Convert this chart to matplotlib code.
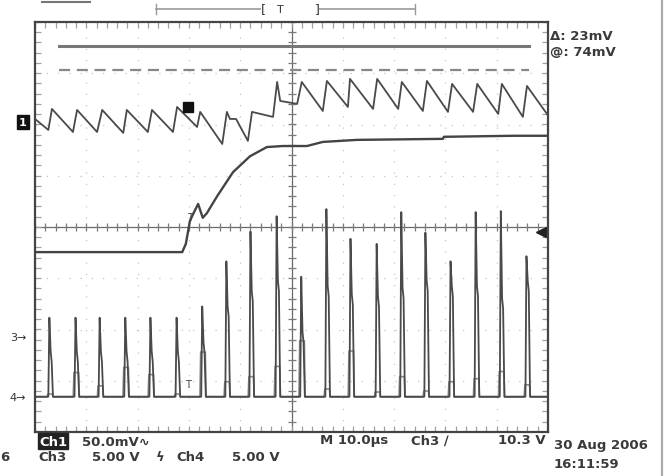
import numpy as np
import matplotlib.pyplot as plt
from matplotlib.lines import Line2D

# Escalas del osciloscopio
t_div = 10.0       # us/div
ch1_escala = 50.0  # mV/div
ch3_escala = 5.0   # V/div
ch4_escala = 5.0   # V/div

# Posicion de las tierras (div desde el centro de pantalla)
ch1_pos = 2.05
ch3_pos = -2.15
ch4_pos = -3.32

# Canal 1: rizado (us, mV)
ch1_t = [-50.0, -47.4, -46.7, -42.6, -41.8, -37.9, -36.9, -32.8, -32.1, -28.0, -27.2,
         -23.1, -22.3, -18.4, -17.8, -13.5, -12.6, -12.0, -10.8, -8.5, -7.7, -3.6,
         -2.8, -2.2, 1.1, 2.0, 6.1, 6.9, 11.0, 11.4, 15.9, 16.7, 20.8, 21.5, 25.6,
         26.4, 30.5, 31.3, 35.4, 36.2, 40.3, 41.0, 45.1, 45.9, 49.8]
ch1_mv = [2.9, -7.8, 12.7, -9.8, 11.7, -9.8, 11.7, -10.7, 11.7, -9.8, 11.7,
          -9.8, 14.6, -4.9, 9.8, -21.5, 9.8, 2.9, 2.9, -18.5, 9.8, 4.9,
          39.0, 20.5, 17.6, 39.0, 10.7, 40.0, 14.6, 42.0, 12.7, 42.0, 12.7, 39.0, 10.7,
          40.0, 9.8, 37.1, 9.8, 37.1, 7.8, 37.1, 4.9, 35.1, 7.8]

# Traza lenta (us, div)
lenta_t = [-50.0, -21.3, -20.6, -19.8, -19.0, -18.2, -17.3, -16.5, -14.5, -11.4,
           -8.1, -4.8, -1.7, 3.0, 6.1, 12.8, 29.5, 29.7, 43.2, 49.8]
lenta_div = [-0.49, -0.49, -0.33, 0.12, 0.29, 0.45, 0.18, 0.27, 0.6, 1.07,
             1.38, 1.56, 1.58, 1.58, 1.66, 1.70, 1.72, 1.76, 1.78, 1.78]

# Pulsos de los canales 3 y 4
pulso_t = [-47.1, -42.0, -37.3, -32.3, -27.4, -22.3, -17.3, -12.6, -7.9, -2.8,
           2.0, 6.9, 11.6, 16.7, 21.5, 26.2, 31.1, 36.0, 40.9, 45.9]
ch3_pico = [1.9, 1.9, 1.9, 1.9, 1.9, 1.9, 3.0, 7.4, 10.3, 11.8,
            5.9, 12.5, 9.6, 9.1, 12.2, 10.2, 7.4, 12.2, 12.3, 7.9]
ch3_hombro = [-1.4, -1.4, -1.4, -1.4, -1.4, -1.4, -0.5, 3.0, 4.5, 5.5,
              0.5, 5.0, 4.2, 4.0, 4.8, 5.5, 5.0, 5.0, 3.8, 5.5]
ch3_bajo = -5.8
ch4_pico = [0.3, 2.4, 1.1, 2.9, 2.2, 0.3, 4.4, 1.5, 2.0, 3.0,
            5.5, 0.8, 4.5, 0.5, 2.0, 0.6, 1.5, 1.8, 2.5, 1.2]

cursor_a = 74.0     # mV
cursor_delta = 23.0  # mV
disparo = 10.3       # V
pos_disparo = -20.2  # us

fig = plt.figure(figsize=(6.7, 4.77), dpi=100)
W, H = 670.0, 477.0
def px(x, y):
    return x / W, 1 - y / H

ax = fig.add_axes([35 / W, 1 - 433 / H, 513 / W, 410 / H])
ax.set_xlim(-5 * t_div, 5 * t_div)
ax.set_ylim(-4, 4)
ax.set_xticks([])
ax.set_yticks([])
for s in ax.spines.values():
    s.set_color('#444444')
    s.set_linewidth(1.6)

# reticula
gris = '#c4c4c4'
for i in range(-4, 5):
    ax.axvline(i * t_div, color=gris, lw=0.9, ls=(0, (1, 8)), zorder=0)
for j in range(-3, 4):
    ax.axhline(j, color=gris, lw=0.9, ls=(0, (1, 8)), zorder=0)
ax.axvline(0, color='#6a6a6a', lw=0.9, zorder=1)
ax.axhline(0, color='#6a6a6a', lw=0.9, zorder=1)
xs = np.arange(-50, 50.1, t_div / 5)
ys = np.arange(-4, 4.01, 0.2)
ax.plot(xs, np.zeros_like(xs), ls='none', marker='|', ms=6, color='#7a7a7a', mew=0.9)
ax.plot(np.zeros_like(ys), ys, ls='none', marker='_', ms=6, color='#7a7a7a', mew=0.9)
ax.plot(xs, np.full_like(xs, 4), ls='none', marker='|', ms=8, color='#a0a0a0', mew=0.9)
ax.plot(xs, np.full_like(xs, -4), ls='none', marker='|', ms=8, color='#a0a0a0', mew=0.9)
ax.plot(np.full_like(ys, -50), ys, ls='none', marker='_', ms=8, color='#a0a0a0', mew=0.9)
ax.plot(np.full_like(ys, 50), ys, ls='none', marker='_', ms=8, color='#a0a0a0', mew=0.9)

# cursores
ya = ch1_pos + cursor_a / ch1_escala
yb = ch1_pos + (cursor_a - cursor_delta) / ch1_escala
ax.plot([-45.3, 46.3], [ya, ya], color='#777777', lw=2.2)
ax.plot([-45.3, 46.3], [yb, yb], color='#888888', lw=1.6, ls=(0, (5, 3)))

# canal 1
ch1_y = ch1_pos + np.array(ch1_mv) / ch1_escala
ax.plot(ch1_t, ch1_y, color='#4a4a4a', lw=1.3)

# traza lenta
ax.plot(lenta_t, lenta_div, color='#444444', lw=1.7)

# canales 3 y 4
t3 = [-50.0]
v3 = [ch3_bajo]
t4 = [-50.0]
v4 = [0.0]
for t, p, h, q in zip(pulso_t, ch3_pico, ch3_hombro, ch4_pico):
    t3 += [t - 0.3, t - 0.1, t + 0.15, t + 0.35, t + 0.6]
    v3 += [ch3_bajo, p, h, h - 1.0, ch3_bajo]
    t4 += [t - 0.55, t - 0.4, t + 0.5, t + 0.65]
    v4 += [0.0, q, q, 0.0]
t3.append(50.0)
v3.append(ch3_bajo)
t4.append(50.0)
v4.append(0.0)
ax.plot(t4, ch4_pos + np.array(v4) / ch4_escala, color='#8a8a8a', lw=1.2)
ax.plot(t3, ch3_pos + np.array(v3) / ch3_escala, color='#4a4a4a', lw=1.3)

# marcas
ax.plot([48.6], [ch3_pos + disparo / ch3_escala], marker='<', ms=7, color='#222222', clip_on=False)
ax.plot([pos_disparo], [ch1_pos + 15 / ch1_escala], marker='s', ms=7, color='#111111')
ax.text(pos_disparo, ch4_pos + 0.25, 'T', fontsize=7, ha='center', va='center', color='#444444')
ax.text(pos_disparo + 0.4, 0.2, 'T', fontsize=7, ha='center', va='center', color='#444444')

ax.annotate('1', xy=(-50, ch1_pos), xytext=(-12, 0), textcoords='offset pixels',
            fontsize=8, fontweight='bold', color='white', ha='center', va='center',
            bbox=dict(boxstyle='square,pad=0.15', fc='#111111', ec='#111111'),
            annotation_clip=False)
ax.annotate('3→', xy=(-50, ch3_pos), xytext=(-17, 0), textcoords='offset pixels',
            fontsize=8, color='#333333', ha='center', va='center', annotation_clip=False)
ax.annotate('4→', xy=(-50, ch4_pos), xytext=(-17, 0), textcoords='offset pixels',
            fontsize=8, color='#333333', ha='center', va='center', annotation_clip=False)

# barra superior
fig.add_artist(Line2D([156 / W, 415 / W], [1 - 10 / H] * 2, color='#999999', lw=1.2))
fig.add_artist(Line2D([156 / W, 156 / W], [1 - 5 / H, 1 - 15 / H], color='#999999', lw=1.0))
fig.add_artist(Line2D([415 / W, 415 / W], [1 - 5 / H, 1 - 15 / H], color='#999999', lw=1.0))
fig.add_artist(Line2D([263 / W, 317 / W], [1 - 10 / H] * 2, color='white', lw=3))
fig.text(*px(263, 10), '[', fontsize=9, color='#333333', ha='center', va='center')
fig.text(*px(280, 10), 'T', fontsize=8, color='#333333', ha='center', va='center')
fig.text(*px(317, 10), ']', fontsize=9, color='#333333', ha='center', va='center')
fig.add_artist(Line2D([42 / W, 90 / W], [1 - 3 / H] * 2, color='#777777', lw=1.5))
fig.add_artist(Line2D([662 / W, 662 / W], [0, 1], color='#aaaaaa', lw=1.6))

# textos
txt = dict(fontsize=9.5, fontweight='bold', color='#3a3a3a', va='center')
fig.text(*px(550, 37), 'Δ: %dmV' % cursor_delta, **txt)
fig.text(*px(550, 52), '@: %dmV' % cursor_a, **txt)
fig.text(*px(39, 442), 'Ch1', fontsize=9.5, fontweight='bold', color='white', va='center',
         bbox=dict(boxstyle='square,pad=0.1', fc='#222222', ec='#222222'))
fig.text(*px(82, 442), '50.0mV∿', **txt)
fig.text(*px(38, 458), 'Ch3', **txt)
fig.text(*px(92, 458), '5.00 V', **txt)
fig.text(*px(156, 458), 'ϟ', **txt)
fig.text(*px(176, 458), 'Ch4', **txt)
fig.text(*px(232, 458), '5.00 V', **txt)
fig.text(*px(320, 441), 'M 10.0µs', **txt)
fig.text(*px(411, 441), 'Ch3 ∕', **txt)
fig.text(*px(498, 441), '%.1f V' % disparo, **txt)
fig.text(*px(554, 445), '30 Aug 2006', **txt)
fig.text(*px(554, 465), '16:11:59', **txt)
fig.text(*px(0, 458), '6', **txt)

fig.savefig('out.png', dpi=100)
